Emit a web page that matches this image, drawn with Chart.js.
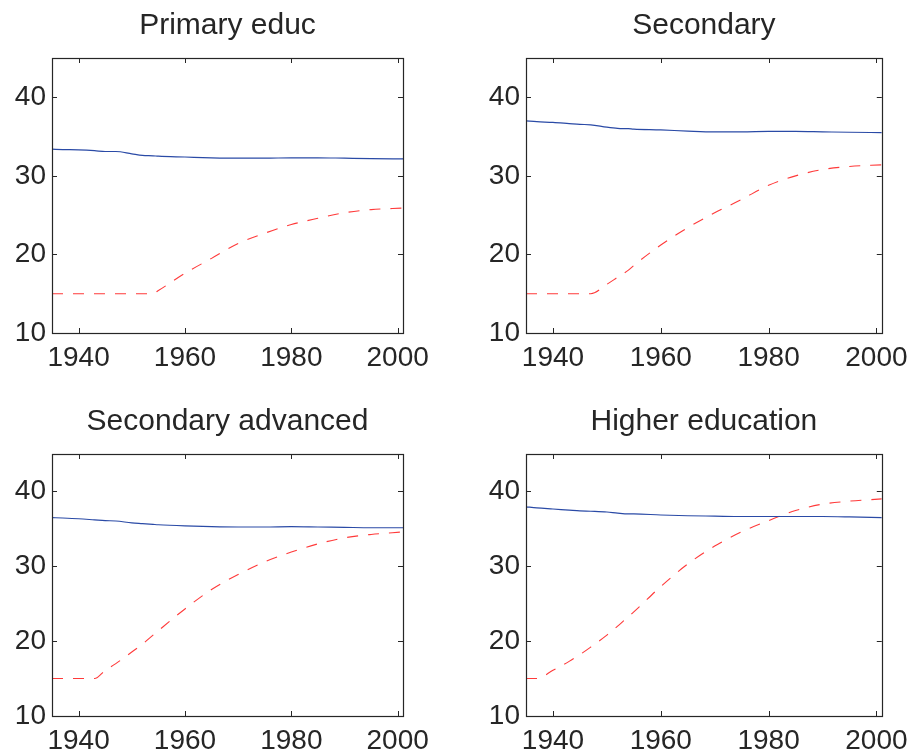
<!DOCTYPE html>
<html>
<head>
<meta charset="utf-8">
<script src="https://cdn.jsdelivr.net/npm/chart.js@4"></script>
<style>
  html, body { margin: 0; padding: 0; background: #fff; }
  body { width: 916px; height: 751px; position: relative; overflow: hidden; }
  .panel { position: absolute; }
</style>
</head>
<body>
<div class="panel" style="left:0;top:0;width:458px;height:375px"><canvas id="c0"></canvas></div>
<div class="panel" style="left:458px;top:0;width:458px;height:375px"><canvas id="c1"></canvas></div>
<div class="panel" style="left:0;top:375px;width:458px;height:376px"><canvas id="c2"></canvas></div>
<div class="panel" style="left:458px;top:375px;width:458px;height:376px"><canvas id="c3"></canvas></div>
<script>
// years shared by every series
const years = [1935, 1937, 1940, 1943, 1945, 1947, 1950, 1952, 1954, 1955, 1960, 1965, 1970, 1975, 1980, 1985, 1990, 1995, 2001];

const primarySolid  = [33.4, 33.35, 33.3, 33.2, 33.1, 33.1, 32.8, 32.6, 32.55, 32.5, 32.4, 32.3, 32.25, 32.25, 32.3, 32.3, 32.25, 32.2, 32.15];
const primaryDashed = [15, 15, 15, 15, 15, 15, 15, 15, 15, 15.4, 17.6, 19.5, 21.4, 22.7, 23.8, 24.6, 25.3, 25.7, 25.9];

const secondarySolid  = [37.0, 36.9, 36.8, 36.65, 36.55, 36.5, 36.2, 36.05, 36.0, 35.95, 35.85, 35.7, 35.6, 35.6, 35.65, 35.65, 35.6, 35.55, 35.5];
const secondaryDashed = [15, 15, 15, 15, 15, 15, 16.2, 17.1, 18.0, 18.6, 21.2, 23.4, 25.3, 27.0, 28.8, 30.0, 30.8, 31.2, 31.4];

const advancedSolid  = [36.5, 36.45, 36.35, 36.2, 36.1, 36.05, 35.8, 35.7, 35.6, 35.55, 35.4, 35.3, 35.25, 35.25, 35.3, 35.25, 35.2, 35.15, 35.15];
const advancedDashed = [15, 15, 15, 15, 16.1, 17.0, 18.55, 19.6, 20.8, 21.4, 24.3, 26.9, 28.9, 30.6, 31.9, 33.0, 33.8, 34.25, 34.6];

const higherSolid  = [37.95, 37.8, 37.65, 37.5, 37.4, 37.35, 37.25, 37.1, 37.0, 37.0, 36.85, 36.75, 36.7, 36.65, 36.65, 36.65, 36.65, 36.6, 36.5];
const higherDashed = [15, 15, 16.1, 17.3, 18.2, 19.2, 20.8, 22.0, 23.3, 23.9, 27.3, 30.3, 32.7, 34.6, 36.1, 37.45, 38.3, 38.7, 39.0];

const titles = ['Primary educ', 'Secondary', 'Secondary advanced', 'Higher education'];
const xTicks = [1940, 1960, 1980, 2000];
const yTicks = [10, 20, 30, 40];

const FONT = '"Liberation Sans", Arial, Helvetica, sans-serif';
const INK = '#262626';

// frame, inward tick marks and title, drawn the way matlab does it
const boxPlugin = {
  id: 'box',
  afterDatasetsDraw(chart, args, opts) {
    const { ctx, chartArea: a, scales: { x, y } } = chart;
    const tl = 5;
    ctx.save();
    ctx.strokeStyle = INK;
    ctx.lineWidth = 1.2;
    ctx.strokeRect(Math.round(a.left) + 0.5, Math.round(a.top) + 0.5,
      Math.round(a.right - a.left), Math.round(a.bottom - a.top));
    ctx.lineWidth = 1;
    ctx.beginPath();
    xTicks.forEach(v => {
      const px = Math.round(x.getPixelForValue(v)) + 0.5;
      ctx.moveTo(px, a.bottom); ctx.lineTo(px, a.bottom - tl);
      ctx.moveTo(px, a.top); ctx.lineTo(px, a.top + tl);
    });
    yTicks.forEach(v => {
      const py = Math.round(y.getPixelForValue(v)) + 0.5;
      ctx.moveTo(a.left, py); ctx.lineTo(a.left + tl, py);
      ctx.moveTo(a.right, py); ctx.lineTo(a.right - tl, py);
    });
    ctx.stroke();
    ctx.fillStyle = INK;
    ctx.font = '30px ' + FONT;
    ctx.textAlign = 'center';
    ctx.textBaseline = 'alphabetic';
    ctx.fillText(opts.text, (a.left + a.right) / 2, a.top - 24);
    ctx.restore();
  }
};

const toPoints = vals => vals.map((v, i) => ({ x: years[i], y: v }));

function makePanel(id, title, solid, dashed, pad, yWidth, xHeight) {
  new Chart(document.getElementById(id), {
    type: 'line',
    data: {
      datasets: [
        {
          data: toPoints(solid),
          borderColor: '#2a4aa6',
          borderWidth: 1.2,
          pointRadius: 0,
          cubicInterpolationMode: 'monotone'
        },
        {
          data: toPoints(dashed),
          borderColor: '#ff3a3a',
          borderWidth: 1.1,
          borderDash: [11, 10],
          pointRadius: 0,
          cubicInterpolationMode: 'monotone'
        }
      ]
    },
    options: {
      responsive: true,
      maintainAspectRatio: false,
      animation: false,
      events: [],
      layout: { padding: pad },
      plugins: {
        legend: { display: false },
        tooltip: { enabled: false },
        box: { text: title }
      },
      scales: {
        x: {
          type: 'linear',
          min: 1935,
          max: 2001,
          grid: { display: false, drawTicks: false },
          border: { display: false },
          afterBuildTicks: s => { s.ticks = xTicks.map(v => ({ value: v })); },
          afterFit: s => { s.height = xHeight; },
          ticks: {
            color: INK,
            padding: 8,
            maxRotation: 0,
            font: { family: FONT, size: 28 },
            callback: v => String(v)
          }
        },
        y: {
          min: 10,
          max: 45,
          grid: { display: false, drawTicks: false },
          border: { display: false },
          afterBuildTicks: s => { s.ticks = yTicks.map(v => ({ value: v })); },
          afterFit: s => { s.width = yWidth; },
          ticks: {
            color: INK,
            padding: 6,
            font: { family: FONT, size: 28 },
            callback: v => String(v)
          }
        }
      }
    },
    plugins: [boxPlugin]
  });
}

makePanel('c0', titles[0], primarySolid, primaryDashed, { top: 58, right: 55 }, 52, 42);
makePanel('c1', titles[1], secondarySolid, secondaryDashed, { top: 58, right: 30 }, 68, 42);
makePanel('c2', titles[2], advancedSolid, advancedDashed, { top: 79, right: 55 }, 52, 35);
makePanel('c3', titles[3], higherSolid, higherDashed, { top: 79, right: 30 }, 68, 35);
</script>
</body>
</html>
